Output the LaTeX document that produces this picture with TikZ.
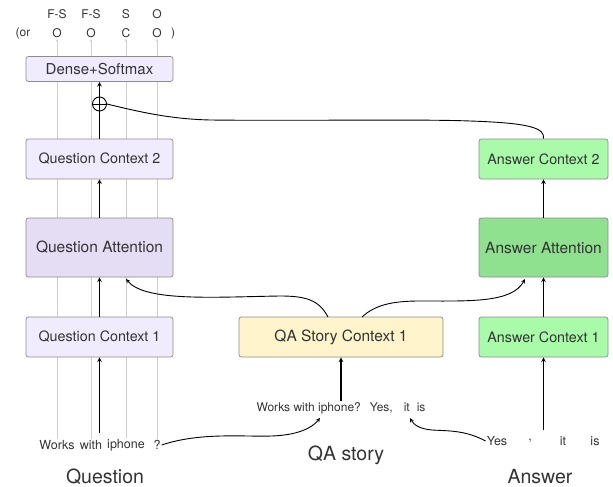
\documentclass[tikz,border=0pt]{standalone}
\usepackage{fontspec}
\setmainfont{TeX Gyre Heros}
\usetikzlibrary{arrows.meta}

\definecolor{txtgray}{HTML}{333333}
\definecolor{boxline}{HTML}{8C8C8C}
\definecolor{tagline}{HTML}{CFCFCF}
\definecolor{qfill}{HTML}{F1EBFE}
\definecolor{qattfill}{HTML}{E5DDF4}
\definecolor{storyfill}{HTML}{FFF4CB}
\definecolor{afill}{HTML}{A9FBA9}
\definecolor{aattfill}{HTML}{8FE18F}

\tikzset{
  box/.style={draw=boxline, rounded corners=2.5pt, line width=0.7pt, inner sep=0pt,
    text=txtgray, font=\fontsize{14.3}{16}\selectfont},
  bigbox/.style={box, font=\fontsize{15.5}{17}\selectfont},
  word/.style={text=txtgray, inner sep=1pt, font=\fontsize{12.5}{14}\selectfont},
  tag/.style={text=txtgray, inner sep=1pt, font=\fontsize{12}{14}\selectfont},
  caption/.style={text=txtgray, font=\fontsize{19.5}{22}\selectfont},
  flow/.style={->,>=stealth,line width=1.1pt},
  tagflow/.style={->,>={Stealth[length=3pt,width=2.5pt]},tagline,line width=0.8pt},
}

\begin{document}
\begin{tikzpicture}[x=1pt,y=-1pt]
    \useasboundingbox (0,0) rectangle (613,487);

    % output tags
    \node[tag] at (57,14) (t1) {F-S};
    \node[tag] at (91,14) (t2) {F-S};
    \node[tag] at (126,14) (t3) {S};
    \node[tag] at (157,14) (t4) {O};
    \node[tag] at (23,33) (or) {(or};
    \node[tag] at (57,33) (o1) {O};
    \node[tag] at (91,33) (o2) {O};
    \node[tag] at (126,33) (o3) {C};
    \node[tag] at (157,33) (o4) {O};
    \node[tag] at (173,33) (cl) {)};

    % question words
    \node[word] at (57,445) (qw1) {Works};
    \node[word] at (91,445) (qw2) {with};
    \node[word] at (126,445) (qw3) {iphone};
    \node[word] at (157,445) (qw4) {?};

    % word lanes, behind the boxes
    \draw[tagflow] (qw1) -- (o1);
    \draw[tagflow] (qw2) -- (o2);
    \draw[tagflow] (qw3) -- (o3);
    \draw[tagflow] (qw4) -- (o4);

    % question column
    \node[box, fill=qfill, minimum width=147pt, minimum height=25pt, font=\fontsize{15}{17}\selectfont] at (99.5,69) (dense) {Dense+Softmax};
    \node[box, fill=qfill, minimum width=147pt, minimum height=40pt] at (99.5,159) (qc2) {Question Context 2};
    \node[bigbox, fill=qattfill, minimum width=147pt, minimum height=59pt] at (99.5,247.5) (qatt) {Question Attention};
    \node[box, fill=qfill, minimum width=147pt, minimum height=40pt] at (99.5,337) (qc1) {Question Context 1};

    % story column
    \node[bigbox, fill=storyfill, minimum width=204pt, minimum height=40pt] at (341,337) (story) {QA Story Context 1};
    \node[word, font=\fontsize{12}{14}\selectfont] at (341,408) (storytxt) {Works with iphone?\hspace{9pt}Yes,\hspace{11pt}it\hspace{7pt}is};

    % answer column
    \node[box, fill=afill, minimum width=129pt, minimum height=40pt] at (543.5,159) (ac2) {Answer Context 2};
    \node[bigbox, fill=aattfill, minimum width=129pt, minimum height=59pt] at (543.5,247.5) (aatt) {Answer Attention};
    \node[box, fill=afill, minimum width=129pt, minimum height=40pt] at (543.5,337) (ac1) {Answer Context 1};
    \node[word] at (497,441) (aw1) {Yes};
    \node[word] at (530,441) (aw2) {,};
    \node[word] at (563,441) (aw3) {it};
    \node[word] at (595,441) (aw4) {is};

    % captions
    \node[caption] at (105,477) (qcap) {Question};
    \node[caption] at (346,455) (scap) {QA story};
    \node[caption] at (540,477) (acap) {Answer};

    % merge point
    \node[draw, circle, line width=0.9pt, minimum size=14pt, inner sep=0pt] at (99.5,104) (plus) {};
    \draw[line width=0.9pt] (plus.west) -- (plus.east);

    \coordinate (qin) at (99.5,433);
    \coordinate (ain) at (543.5,430);
    \coordinate (sphone) at (320,418);
    \coordinate (sit) at (410,418);

    % main flows
    \draw[flow] (qin) -- (qc1);
    \draw[flow] (qc1) -- (qatt);
    \draw[flow] (qatt) -- (qc2);
    \draw[line width=1.1pt] (qc2.north) -- (plus.north);
    \draw[flow] (plus.north) -- (dense);
    \draw[flow] (storytxt.north -| story.south) -- (story);
    \draw[flow] (ain) -- (ac1);
    \draw[flow] (ac1) -- (aatt);
    \draw[flow] (aatt) -- (ac2);

    % curved links
    \draw[flow, line width=0.9pt] (qw4.east) .. controls (200,432) and (245,437) .. (272,436) .. controls (298,435) and (312,428) .. (sphone);
    \draw[flow, line width=0.9pt] (aw1.west) .. controls (465,430) and (448,431) .. (432,430) .. controls (420,429) and (414,425) .. (sit);
    \draw[flow, line width=0.9pt] (328,317) .. controls (319,300) and (306,296) .. (280,296) .. controls (215,297) and (145,302) .. (126,279);
    \draw[flow, line width=0.9pt] (362,317) .. controls (375,305) and (392,301) .. (420,301) .. controls (470,301) and (512,303) .. (525,279);
    \draw[line width=0.9pt] (plus.east) .. controls (140,112) and (170,119) .. (210,120) .. controls (300,121) and (420,119) .. (470,121) .. controls (530,123) and (545,128) .. (ac2.north);
\end{tikzpicture}
\end{document}
